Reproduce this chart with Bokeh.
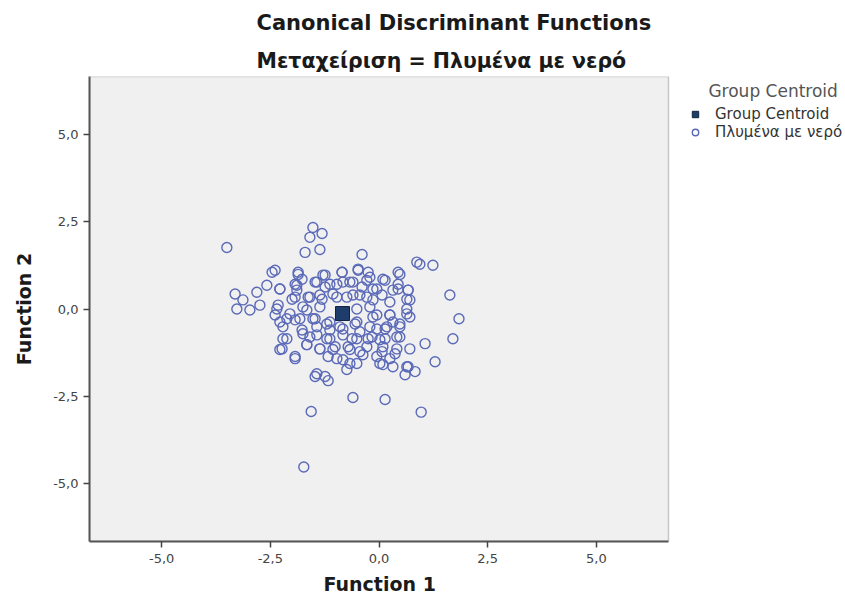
from bokeh.plotting import figure
from bokeh.models import Range1d, FixedTicker, CustomJSTickFormatter, Legend, LegendItem, Title, BoxAnnotation
from bokeh.embed import file_html
from bokeh.resources import INLINE

title_text = "Canonical Discriminant Functions"
subtitle_text = "Μεταχείριση = Πλυμένα με νερό"
x_label = "Function 1"
y_label = "Function 2"
legend_title = "Group Centroid"
group_name = "Πλυμένα με νερό"
centroid_name = "Group Centroid"
tick_values = [-5.0, -2.5, 0.0, 2.5, 5.0]
x_lim = (-6.66, 6.66)
y_lim = (-6.65, 6.65)

# Discriminant scores of the cases: scattered cases first, then the dense core
func1 = [-3.50, -1.52, -1.59, -1.31, -1.70, -1.36, -0.39, 0.94, 1.24, -2.46,
         1.63, 1.84, 1.70, 1.06, 1.29, 0.67, 0.83, 0.60, -1.93, -1.47,
         -1.24, -3.31, -3.13, -3.27, -2.97, -2.74, -2.81, -2.58, -2.28, 0.14,
         0.97, -0.60, -1.56, -1.73, -1.17,
         -1.86, -1.77, -1.24, -0.85, -0.48, -0.25, 0.48, 0.09, -1.93, -1.89,
         -1.43, -1.13, -0.83, -0.60, -0.28, -0.05, 0.44, 0.67, 0.32, -2.00,
         -1.59, -1.36, -1.06, -0.74, -0.44, -0.14, 0.25, 0.71, -2.32, -1.75,
         -2.39, -2.12, -1.82, -1.47, -0.51, -0.14, 0.25, 0.64, 0.32, -1.13,
         -2.21, -1.77, -1.43, -1.13, -0.83, -0.44, -0.05, 0.18, 0.48, -2.12,
         -1.59, -1.20, -0.62, -0.25, 0.02, 0.41, -2.23, -1.66, -1.36, -1.06,
         -0.71, -0.44, 0.09, -0.97, -0.67, -0.37, -0.05, 0.25, 0.09, 0.41,
         -2.39, -1.86, -1.29, -0.85, -0.48, -0.21, 0.14, 0.44, 0.87, -2.28,
         -1.89, -1.47, -1.24, -0.97, -0.67, -0.39, -0.14, 0.44, 0.67, -1.93,
         -1.63, -1.31, -0.97, -0.60, -0.28, 0.07, 0.64, -2.35, -2.05, -1.66,
         -1.36, -0.51, -0.21, -0.05, 0.25, 0.64, -2.28, -1.93, -1.52, -1.20,
         -0.90, -0.55, -0.21, 0.14, 0.48, 0.71, -2.21, -1.75, -1.43, -1.13,
         -0.83, -0.51, -0.16, 0.14, 0.48, -2.28, -1.66, -1.36, -1.01, -0.67,
         -0.28, 0.07, 0.37, 0.71, -1.93, -1.17, -0.83, -0.51, 0.02, 0.32,
         0.64, -1.43, -0.74]
func2 = [1.76, 2.33, 2.05, 2.16, 1.62, 1.70, 1.56, 1.28, 1.25, 1.05,
         0.40, -0.28, -0.85, -0.99, -1.51, -1.65, -1.79, -1.88, -1.42, -1.93,
         -1.93, 0.43, 0.26, 0.00, -0.03, 0.11, 0.48, 0.68, 0.57, -2.59,
         -2.95, -2.53, -2.93, -4.52, -2.05,
         0.99, 0.85, 0.97, 1.05, 1.14, 1.05, 0.99, 0.85, 0.71, 0.54,
         0.77, 0.71, 0.77, 0.77, 0.82, 0.57, 0.71, 0.54, 0.54, 0.28,
         0.34, 0.40, 0.43, 0.34, 0.40, 0.26, 0.20, 0.26, 0.11, 0.06,
         -0.17, -0.28, -0.28, -0.28, -0.37, -0.23, -0.17, -0.14, -0.37, -0.37,
         -0.51, -0.60, -0.51, -0.60, -0.57, -0.65, -0.57, -0.51, -0.51, -0.85,
         -0.80, -0.85, -0.85, -0.85, -0.88, -0.80, -1.14, -1.02, -1.14, -1.16,
         -1.08, -1.22, -1.08, -1.42, -1.56, -1.31, -1.36, -1.42, -1.59, -1.14,
         1.11, 1.05, 0.97, 1.05, 1.11, 0.91, 0.82, 1.05, 1.34, 0.57,
         0.68, 0.77, 0.63, 0.71, 0.77, 0.63, 0.57, 0.57, 0.54, 0.34,
         0.34, 0.28, 0.34, 0.40, 0.34, 0.40, 0.28, 0.00, -0.14, -0.03,
         0.06, 0.00, 0.06, -0.17, -0.17, 0.00, -0.37, -0.31, -0.28, -0.43,
         -0.51, -0.43, -0.51, -0.57, -0.43, -0.23, -0.85, -0.71, -0.74, -0.85,
         -0.74, -0.85, -0.80, -0.85, -0.80, -1.16, -1.02, -1.14, -1.08, -1.16,
         -1.08, -1.22, -1.28, -1.14, -1.36, -1.36, -1.45, -1.56, -1.56, -1.65,
         -1.65, -1.85, -1.73]
centroid_f1 = [-0.84]
centroid_f2 = [-0.13]

# frame extends right to hold the legend; the plot box itself is drawn with a BoxAnnotation
px_per_unit = 579 / (x_lim[1] - x_lim[0])
x_end = x_lim[1] + 177 / px_per_unit

p = figure(width=845, height=602, title=None,
           x_range=Range1d(x_lim[0], x_end), y_range=Range1d(*y_lim),
           output_backend="svg", toolbar_location=None,
           min_border_left=89, min_border_right=0,
           min_border_top=73, min_border_bottom=61)

p.background_fill_color = "white"
p.border_fill_color = "white"
p.outline_line_color = None
p.xgrid.grid_line_color = None
p.ygrid.grid_line_color = None

p.add_layout(BoxAnnotation(left=x_lim[0], right=x_lim[1], bottom=y_lim[0], top=y_lim[1],
                           fill_color="#F0F0F0", fill_alpha=1.0,
                           line_color="#555555", line_width=1.5, level="underlay"))

for ax in (p.xaxis, p.yaxis):
    ax.ticker = FixedTicker(ticks=tick_values)
    ax.formatter = CustomJSTickFormatter(code="return tick.toFixed(1).replace('.', ',');")
    ax.minor_tick_line_color = None
    ax.major_tick_in = 0
    ax.major_tick_out = 6
    ax.major_tick_line_color = "#444444"
    ax.major_tick_line_width = 1.5
    ax.axis_line_color = "#555555"
    ax.axis_line_width = 2
    ax.major_label_text_font = "DejaVu Sans"
    ax.major_label_text_font_size = "13px"
    ax.major_label_text_color = "#444444"

p.xaxis.bounds = x_lim
p.xaxis.major_label_standoff = 6
p.yaxis.major_label_standoff = 5
p.yaxis.axis_label = y_label
p.yaxis.axis_label_standoff = 15
p.yaxis.axis_label_text_font = "DejaVu Sans"
p.yaxis.axis_label_text_font_style = "bold"
p.yaxis.axis_label_text_font_size = "19px"
p.yaxis.axis_label_text_color = "#1a1a1a"

# x-axis title centred under the plot box (not under the legend area)
p.add_layout(Title(text=x_label, align="left", offset=234, standoff=10,
                   text_font="DejaVu Sans", text_font_style="bold",
                   text_font_size="19px", text_color="#1a1a1a"), "below")

r_pts = p.scatter(func1, func2, marker="circle", size=10, fill_color=None,
                  line_color="#5A69B8", line_width=1.4)
r_c = p.scatter(centroid_f1, centroid_f2, marker="square", size=14,
                fill_color="#1F3D6B", line_color="#0E223F", line_width=1)

legend = Legend(items=[LegendItem(label=centroid_name, renderers=[r_c]),
                       LegendItem(label=group_name, renderers=[r_pts])],
                location=(579, 392), padding=8, margin=0, spacing=0,
                glyph_height=16, glyph_width=38, label_height=16, label_standoff=1,
                label_text_font="DejaVu Sans", label_text_font_size="15px",
                label_text_color="#333333",
                title="\u00a0" * 6 + legend_title, title_standoff=4,
                title_text_font="DejaVu Sans", title_text_font_size="17px",
                title_text_font_style="normal", title_text_color="#555555",
                border_line_alpha=0, background_fill_alpha=0)
p.add_layout(legend, "center")

sub = Title(text=subtitle_text, align="left", offset=167, standoff=8,
            text_font="DejaVu Sans", text_font_style="bold",
            text_font_size="20.5px", text_color="#1a1a1a")
main = Title(text=title_text, align="left", offset=167, standoff=16,
             text_font="DejaVu Sans", text_font_style="bold",
             text_font_size="21px", text_color="#1a1a1a")
p.add_layout(sub, "above")
p.add_layout(main, "above")

open("out.html", "w").write(file_html(p, INLINE))
